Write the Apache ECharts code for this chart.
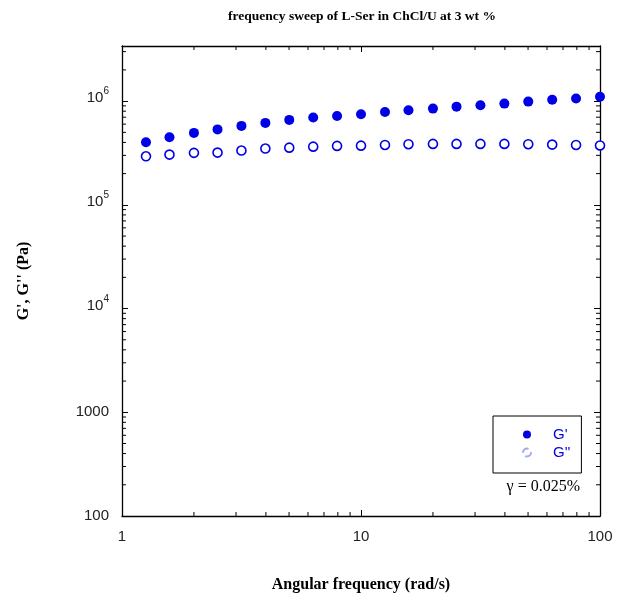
<!DOCTYPE html>
<html>
<head>
<meta charset="utf-8">
<script src="https://cdn.jsdelivr.net/npm/echarts@6/dist/echarts.min.js"></script>
<style>
html,body{margin:0;padding:0;background:#fff;}
#main{width:623px;height:604px;}
</style>
</head>
<body>
<div id="main"></div>
<script>
// angular frequency (rad/s)
var freq=[1.26,1.58,2.0,2.51,3.16,3.98,5.01,6.31,7.94,10,12.6,15.8,20,25.1,31.6,39.8,50.1,63.1,79.4,100]
// storage modulus G' (Pa)
var gPrime=[4.01e5,4.48e5,4.94e5,5.34e5,5.77e5,6.17e5,6.59e5,6.94e5,7.20e5,7.46e5,7.87e5,8.15e5,8.47e5,8.85e5,9.12e5,9.46e5,9.89e5,1.03e6,1.06e6,1.10e6]
// loss modulus G'' (Pa)
var gDouble=[2.94e5,3.05e5,3.17e5,3.19e5,3.34e5,3.49e5,3.56e5,3.64e5,3.70e5,3.72e5,3.78e5,3.84e5,3.87e5,3.87e5,3.87e5,3.87e5,3.84e5,3.81e5,3.78e5,3.74e5]
var xRange=[1,100]
var yRange=[100,3.4e6]

var blue='#0000e6'
var serif='"Liberation Serif","Times New Roman",serif'
var sans='"Liberation Sans",Arial,sans-serif'

function pts(xs,ys){
    var out=[]
    for(var i=0;i<xs.length;i++){out.push([xs[i],ys[i]])}
    return out
}
function yLabel(v){
    var e=Math.round(Math.log10(v))
    if(e<=3){return String(Math.round(v))}
    return '{b|10}{sup|'+e+'}'
}

var chartDom=document.getElementById('main')
var myChart=echarts.init(chartDom)
var axisLine={show:true,lineStyle:{color:'#000',width:1.3}}
var tick={show:true,inside:true,length:6,lineStyle:{color:'#000',width:1}}
var option={
    animation:false,
    title:{
        text:'frequency sweep of L-Ser in ChCl/U at 3 wt %',
        left:357,top:5,textAlign:'center',
        textStyle:{fontFamily:serif,fontWeight:'bold',fontSize:13.5,color:'#000'}
    },
    grid:{left:122,right:23,top:46,bottom:88},
    legend:{
        orient:'vertical',
        left:493,top:416,
        padding:[11,11,13,29],
        itemGap:3,
        itemWidth:8,itemHeight:8,
        borderColor:'#000',borderWidth:1,
        textStyle:{fontFamily:sans,fontSize:15,color:blue,padding:[0,0,0,17]},
        data:[
            {name:"G'",icon:'circle'},
            {name:"G''",icon:'circle',itemStyle:{opacity:0.35,borderType:'dashed'}}
        ]
    },
    xAxis:[
        {
            type:'log',logBase:10,min:xRange[0],max:xRange[1],
            position:'bottom',
            name:'Angular frequency (rad/s)',nameLocation:'middle',nameGap:61,
            nameTextStyle:{fontFamily:serif,fontWeight:'bold',fontSize:16,color:'#000'},
            axisLine:axisLine,axisTick:tick,
            axisLabel:{fontFamily:sans,fontSize:15,color:'#222',margin:13},
            splitLine:{show:false}
        },
        {
            type:'log',logBase:10,min:xRange[0],max:xRange[1],
            position:'top',
            axisLine:axisLine,axisTick:tick,axisLabel:{show:false},splitLine:{show:false}
        }
    ],
    yAxis:[
        {
            type:'log',logBase:10,min:yRange[0],max:yRange[1],
            position:'left',
            name:"G', G'' (Pa)",nameLocation:'middle',nameGap:90,
            nameTextStyle:{fontFamily:serif,fontWeight:'bold',fontSize:16,color:'#000'},
            axisLine:axisLine,axisTick:tick,
            axisLabel:{
                fontFamily:sans,fontSize:15,color:'#222',margin:13,showMaxLabel:false,
                formatter:yLabel,
                rich:{
                    b:{fontFamily:sans,fontSize:15,color:'#222',padding:[4,0,10,0]},
                    sup:{fontFamily:sans,fontSize:10,color:'#222',padding:[0,0,19,0]}
                }
            },
            splitLine:{show:false}
        },
        {
            type:'log',logBase:10,min:yRange[0],max:yRange[1],
            position:'right',
            axisLine:axisLine,axisTick:tick,axisLabel:{show:false},splitLine:{show:false}
        }
    ],
    series:[
        {
            name:"G'",type:'scatter',symbol:'circle',symbolSize:10,
            itemStyle:{color:blue,opacity:1},
            data:pts(freq,gPrime)
        },
        {
            name:"G''",type:'scatter',symbol:'circle',symbolSize:9,
            itemStyle:{color:'#fff',borderColor:blue,borderWidth:1.6,opacity:1},
            data:pts(freq,gDouble)
        }
    ],
    graphic:[
        {
            type:'text',right:43,top:479,
            style:{text:'\u03b3 = 0.025%',font:'16px '+serif,fill:'#000'}
        }
    ]
}
option && myChart.setOption(option)

// minor log ticks on all four sides
function minorTicks(){
    var els=[]
    var p0=myChart.convertToPixel({xAxisIndex:0},xRange[0])
    var p1=myChart.convertToPixel({xAxisIndex:0},xRange[1])
    var q0=myChart.convertToPixel({yAxisIndex:0},yRange[0])
    var q1=myChart.convertToPixel({yAxisIndex:0},yRange[1])
    var len=4
    var st={stroke:'#000',lineWidth:1}
    for(var d=xRange[0];d<xRange[1];d*=10){
        for(var m=2;m<=9;m++){
            var x=myChart.convertToPixel({xAxisIndex:0},d*m)
            els.push({type:'line',shape:{x1:x,y1:q0,x2:x,y2:q0-len},style:st,silent:true})
            els.push({type:'line',shape:{x1:x,y1:q1,x2:x,y2:q1+len},style:st,silent:true})
        }
    }
    for(var d=yRange[0];d<yRange[1];d*=10){
        for(var m=2;m<=9;m++){
            if(d*m>=yRange[1]){break}
            var y=myChart.convertToPixel({yAxisIndex:0},d*m)
            els.push({type:'line',shape:{x1:p0,y1:y,x2:p0+len,y2:y},style:st,silent:true})
            els.push({type:'line',shape:{x1:p1,y1:y,x2:p1-len,y2:y},style:st,silent:true})
        }
    }
    option.graphic=option.graphic.concat(els)
    myChart.setOption({graphic:option.graphic})
}
minorTicks()
</script>
</body>
</html>
